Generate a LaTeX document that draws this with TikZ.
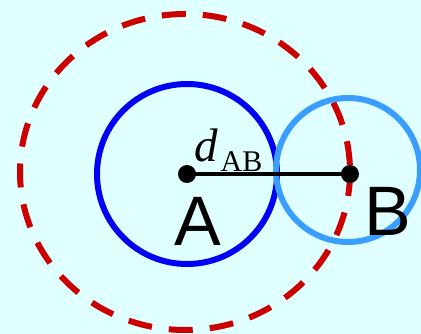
\documentclass[tikz,border=0pt]{standalone}
\usepackage{fontspec}
\setmainfont{Liberation Serif}
\newfontfamily\labelfont{Liberation Sans}
\definecolor{bgcyan}{RGB}{224,255,255}
\definecolor{circblue}{RGB}{0,0,245}
\definecolor{circlight}{RGB}{58,158,255}
\definecolor{circred}{RGB}{204,0,0}
\tikzset{
	dot/.style={circle,fill=black,inner sep=0pt,minimum size=18pt},
	pointlabel/.style={inner sep=0pt,anchor=base,font=\labelfont\fontsize{70}{70}\selectfont}
}
\begin{document}
\begin{tikzpicture}[x=1pt,y=-1pt]
	\fill[bgcyan] (0,0) rectangle (421,334);
	\useasboundingbox (0,0) rectangle (421,334);
	\coordinate (R) at (185,172);
	\coordinate (L) at (348,170);
	\draw [circred,line width=6pt,dash pattern=on 24pt off 17pt] (R) ellipse [x radius=165,y radius=158];
	\draw [circblue,line width=6pt] (187,174) circle [radius=90];
	\draw [circlight,line width=6pt] (L) circle [radius=72];
	\node [dot] (A) at (187,174) {};
	\node [dot] (B) at (350,174) {};
	\draw [line width=4.5pt] (A.center) -- (B.center);
	\node [pointlabel] (a) at (197.5,246) {A};
	\node [pointlabel] (b) at (387.5,236) {B};
	\node [inner sep=0pt,anchor=base west] (d) at (194,162) {{\fontsize{47}{47}\selectfont\itshape d}\kern3pt\raisebox{-10pt}{\fontsize{30}{30}\selectfont AB}};
\end{tikzpicture}
\end{document}
